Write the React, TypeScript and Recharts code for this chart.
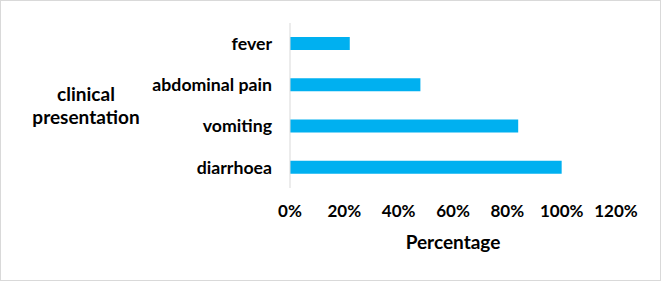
import React from 'react';
import { BarChart, Bar, XAxis, YAxis, Label } from 'recharts';

const categories = ['fever', 'abdominal pain', 'vomiting', 'diarrhoea'];
const percentages = [0.22, 0.48, 0.84, 1.0];
const xTicks = [0, 0.2, 0.4, 0.6, 0.8, 1.0, 1.2];

const data = categories.map((name, i) => ({ name, value: percentages[i] }));

const FONT = 'Lato, "Liberation Sans", sans-serif';

const YLabel = () => (
  <text
    x={86}
    y={101}
    textAnchor="middle"
    fontFamily={FONT}
    fontWeight={700}
    fontSize={19}
    fill="#000"
  >
    <tspan x={86} y={101}>clinical</tspan>
    <tspan x={86} y={124}>presentation</tspan>
  </text>
);

export default function App() {
  return (
    <div style={{ position: 'absolute', left: 0, top: 0, width: 661, height: 281, background: '#fff' }}>
      <BarChart
        width={661}
        height={281}
        data={data}
        layout="vertical"
        margin={{ top: 23, right: 45, bottom: 0, left: 0 }}
        barSize={13}
      >
        <XAxis
          type="number"
          domain={[0, 1.2]}
          ticks={xTicks}
          tickFormatter={(v: number) => `${Math.round(v * 100)}%`}
          axisLine={false}
          tickLine={false}
          tickSize={0}
          tickMargin={17}
          height={93}
          interval={0}
          tick={{ fontFamily: FONT, fontWeight: 700, fontSize: 17, fill: '#000' }}
        >
          <Label
            value="Percentage"
            position="insideBottom"
            offset={32}
            style={{ fontFamily: FONT, fontWeight: 700, fontSize: 19, fill: '#000' }}
          />
        </XAxis>
        <YAxis
          type="category"
          dataKey="name"
          width={290}
          axisLine={{ stroke: '#d9d9d9', strokeWidth: 1 }}
          tickLine={false}
          tickSize={0}
          tickMargin={18}
          interval={0}
          tick={{ fontFamily: FONT, fontWeight: 700, fontSize: 17.7, fill: '#000' }}
        >
          <Label content={<YLabel />} />
        </YAxis>
        <Bar dataKey="value" fill="#00b0f0" isAnimationActive={false} />
      </BarChart>
      <div
        style={{
          position: 'absolute',
          left: 0,
          top: 0,
          width: 661,
          height: 281,
          border: '1px solid #d9d9d9',
          boxSizing: 'border-box',
          pointerEvents: 'none',
        }}
      />
    </div>
  );
}
